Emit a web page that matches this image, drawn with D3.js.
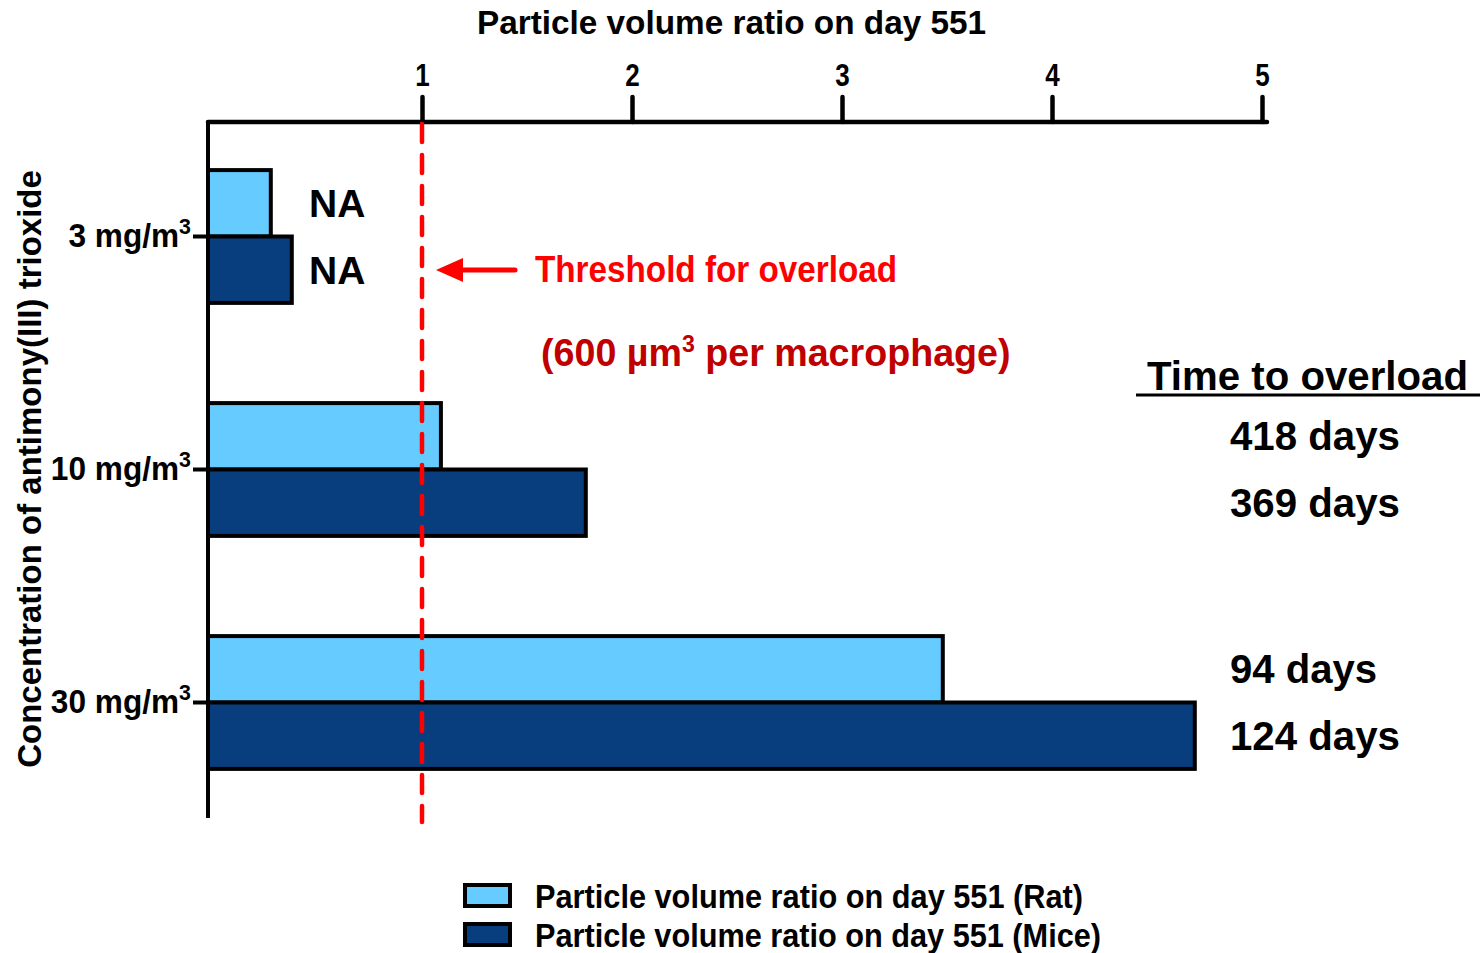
<!DOCTYPE html>
<html>
<head>
<meta charset="utf-8">
<script src="https://cdn.jsdelivr.net/npm/d3@7"></script>
<style>
  body { margin: 0; background: #fff; }
  svg { display: block; }
  .narrow { font-family: "Liberation Sans Narrow", "Arial Narrow", "Liberation Sans", sans-serif; font-weight: bold; }
  .wide { font-family: "Liberation Sans", Arial, sans-serif; font-weight: bold; }
</style>
</head>
<body>
<svg id="chart" width="1481" height="953"></svg>
<script>
// concentrations (mg/m3) on the y axis
const concentrations = ['3', '10', '30'];
// particle volume ratio on day 551
const series = ['Rat', 'Mice'];
const ratValues = [0.28, 1.09, 3.48];
const miceValues = [0.38, 1.78, 4.68];
// time to overload (days), null where not available
const ratDays = [null, 418, 94];
const miceDays = [null, 369, 124];
const xTicks = [1, 2, 3, 4, 5];
const threshold = 1;

const colors = { Rat: '#66ccff', Mice: '#083e7e' };

const rows = concentrations.map((c, i) => ({
  conc: c,
  bars: [
    { series: 'Rat', value: ratValues[i], days: ratDays[i] },
    { series: 'Mice', value: miceValues[i], days: miceDays[i] },
  ],
}));

const svg = d3.select('#chart');
const axisX = 208;
const axisY = 122;
// no condensed font installed, so squeeze the bold sans horizontally
const squeeze = 0.84;

const x = d3.scaleLinear().domain([0, 5]).range([212, 1262]);
const y = d3.scaleBand().domain(concentrations).range([120, 819])
  .paddingInner(0.43).paddingOuter(0.215);
const ySub = d3.scaleBand().domain(series).range([0, y.bandwidth()]);

// bars
const groups = svg.selectAll('g.group')
  .data(rows)
  .join('g')
  .attr('class', 'group')
  .attr('transform', (d) => `translate(0,${y(d.conc)})`);

groups.selectAll('rect')
  .data((d) => d.bars)
  .join('rect')
  .attr('x', axisX)
  .attr('y', (d) => ySub(d.series))
  .attr('width', (d) => x(d.value) - axisX)
  .attr('height', ySub.bandwidth())
  .attr('fill', (d) => colors[d.series])
  .attr('stroke', '#000')
  .attr('stroke-width', 4);

// NA labels for the lowest concentration
groups.filter((d) => d.bars.every((b) => b.days === null))
  .selectAll('text.na')
  .data((d) => d.bars)
  .join('text')
  .attr('class', 'wide na')
  .attr('x', 309)
  .attr('y', (d) => ySub(d.series) + ySub.bandwidth() / 2 + 14)
  .attr('font-size', 39)
  .text('NA');

// time to overload labels
groups.selectAll('text.days')
  .data((d) => d.bars.filter((b) => b.days !== null))
  .join('text')
  .attr('class', 'wide days')
  .attr('x', 1230)
  .attr('y', (d) => ySub(d.series) + ySub.bandwidth() / 2 + 14)
  .attr('font-size', 40)
  .attr('textLength', (d) => (d.days >= 100 ? 170 : 147))
  .attr('lengthAdjust', 'spacingAndGlyphs')
  .text((d) => `${d.days} days`);

// top axis
const xAxis = svg.append('g')
  .attr('transform', `translate(0,${axisY})`)
  .call(d3.axisTop(x).tickValues(xTicks).tickSize(25).tickSizeOuter(0).tickFormat(d3.format('d')));
xAxis.select('.domain').remove();
xAxis.append('line')
  .attr('x1', axisX).attr('x2', x(5) + 5)
  .attr('stroke', '#000').attr('stroke-width', 4.5).attr('stroke-linecap', 'round');
xAxis.selectAll('.tick line').attr('stroke-width', 4.5).attr('stroke-linecap', 'round');
xAxis.selectAll('.tick text')
  .attr('class', 'narrow')
  .attr('font-size', 31)
  .attr('fill', '#000')
  .attr('y', -36)
  .attr('transform', `scale(${squeeze},1)`)
  .attr('x', 0);

// left axis
const tickSqueeze = 0.93;
const yAxis = svg.append('g')
  .attr('transform', `translate(${axisX},0)`)
  .call(d3.axisLeft(y).tickSize(15).tickSizeOuter(0).tickFormat(''));
yAxis.select('.domain').remove();
yAxis.append('line')
  .attr('y1', axisY).attr('y2', 818)
  .attr('stroke', '#000').attr('stroke-width', 4);
yAxis.selectAll('.tick line').attr('stroke-width', 4);
const yLabels = yAxis.selectAll('.tick text')
  .attr('class', 'narrow')
  .attr('font-size', 34)
  .attr('fill', '#000')
  .attr('transform', `scale(${tickSqueeze},1)`)
  .attr('x', -17 / tickSqueeze)
  .attr('dy', '0.32em');
yLabels.append('tspan').text((d) => `${d} mg/m`);
yLabels.append('tspan').attr('font-size', 23).attr('dy', -13).text('3');

// threshold line
svg.append('line')
  .attr('x1', x(threshold)).attr('x2', x(threshold))
  .attr('y1', axisY + 2).attr('y2', 822)
  .attr('stroke', '#ff0000').attr('stroke-width', 4.5)
  .attr('stroke-dasharray', '18,13')
  .attr('stroke-linecap', 'round');

// arrow + threshold annotation
const arrowY = 270;
svg.append('line')
  .attr('x1', x(threshold) + 30).attr('x2', 515)
  .attr('y1', arrowY).attr('y2', arrowY)
  .attr('stroke', '#ff0000').attr('stroke-width', 5).attr('stroke-linecap', 'round');
svg.append('path')
  .attr('d', `M${x(threshold) + 14},${arrowY} l27,-12 v24 z`)
  .attr('fill', '#ff0000');
svg.append('text')
  .attr('class', 'narrow')
  .attr('x', 535).attr('y', 282)
  .attr('font-size', 37)
  .attr('fill', '#ff0000')
  .attr('textLength', 362)
  .attr('lengthAdjust', 'spacingAndGlyphs')
  .text('Threshold for overload');
const note = svg.append('text')
  .attr('class', 'narrow')
  .attr('transform', 'translate(541,366) scale(0.965,1)')
  .attr('font-size', 39)
  .attr('fill', '#c00000');
note.append('tspan').text('(600 µm');
note.append('tspan').attr('font-size', 24).attr('dy', -14).text('3');
note.append('tspan').attr('dy', 14).text(' per macrophage)');

// "Time to overload" header
svg.append('text')
  .attr('class', 'wide')
  .attr('x', 1147).attr('y', 390)
  .attr('font-size', 41)
  .attr('textLength', 321)
  .attr('lengthAdjust', 'spacingAndGlyphs')
  .text('Time to overload');
svg.append('line')
  .attr('x1', 1136).attr('x2', 1480)
  .attr('y1', 395).attr('y2', 395)
  .attr('stroke', '#000').attr('stroke-width', 3);

// titles
svg.append('text')
  .attr('class', 'narrow')
  .attr('x', 477).attr('y', 34)
  .attr('font-size', 34)
  .attr('textLength', 509)
  .attr('lengthAdjust', 'spacingAndGlyphs')
  .text('Particle volume ratio on day 551');
svg.append('text')
  .attr('class', 'wide')
  .attr('transform', 'translate(41,469) rotate(-90)')
  .attr('text-anchor', 'middle')
  .attr('font-size', 33)
  .text('Concentration of antimony(III) trioxide');

// legend
const legendWidths = { Rat: 548, Mice: 566 };
const legend = svg.append('g').attr('transform', 'translate(463,885)');
const legendItems = legend.selectAll('g')
  .data(series)
  .join('g')
  .attr('transform', (d, i) => `translate(0,${i * 39})`);
legendItems.append('rect')
  .attr('x', 2).attr('y', 0)
  .attr('width', 45).attr('height', 21)
  .attr('fill', (d) => colors[d])
  .attr('stroke', '#000').attr('stroke-width', 4);
legendItems.append('text')
  .attr('class', 'narrow')
  .attr('x', 72).attr('y', 23)
  .attr('font-size', 33)
  .attr('textLength', (d) => legendWidths[d])
  .attr('lengthAdjust', 'spacingAndGlyphs')
  .text((d) => `Particle volume ratio on day 551 (${d})`);
</script>
</body>
</html>
